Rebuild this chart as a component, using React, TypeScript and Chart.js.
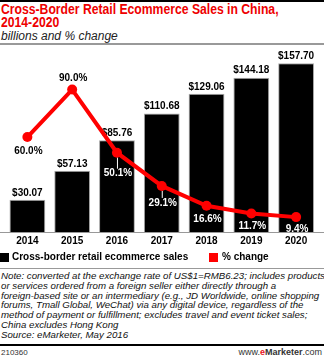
import React, { useEffect, useRef } from "react";
import { Chart, registerables } from "chart.js";

Chart.register(...registerables);

const years = ["2014", "2015", "2016", "2017", "2018", "2019", "2020"];
const sales = [30.07, 57.13, 85.76, 110.68, 129.06, 144.18, 157.7];
const pctChange = [60.0, 90.0, 50.1, 29.1, 16.6, 11.7, 9.4];
const seriesNames = ["Cross-border retail ecommerce sales", "% change"];

const RED = "#ff0000";
const FONT = "'Liberation Sans', Arial, sans-serif";

// label placement for % change: offset (px) from the point, positive = below
const pctLabelOffset = [14, -11, 21, 17, 14, 13, 12];
const pctLabelColor = ["#000", "#000", "#fff", "#fff", "#fff", "#fff", "#fff"];

const labelsPlugin = {
  id: "labelsPlugin",
  beforeDatasetsDraw(chart: any) {
    const { ctx, chartArea } = chart;
    ctx.save();
    ctx.strokeStyle = "#999";
    ctx.lineWidth = 1;
    ctx.beginPath();
    ctx.moveTo(0, chartArea.bottom + 0.5);
    ctx.lineTo(chart.width, chartArea.bottom + 0.5);
    ctx.stroke();
    ctx.restore();
  },
  afterDatasetDraw(chart: any, args: any) {
    if (args.index !== 0) return;
    const { ctx } = chart;
    const meta = chart.getDatasetMeta(0);
    ctx.save();
    ctx.font = `bold 10px ${FONT}`;
    ctx.fillStyle = "#000";
    ctx.textAlign = "center";
    ctx.textBaseline = "bottom";
    meta.data.forEach((bar: any, i: number) => {
      ctx.fillText("$" + sales[i].toFixed(2), bar.x, bar.y - 2);
    });
    ctx.restore();
  },
  afterDatasetsDraw(chart: any) {
    const { ctx } = chart;
    const meta = chart.getDatasetMeta(1);
    ctx.save();
    ctx.font = `bold 10px ${FONT}`;
    ctx.textAlign = "center";
    ctx.textBaseline = "middle";
    meta.data.forEach((pt: any, i: number) => {
      const off = pctLabelOffset[i];
      const ly = pt.y + off;
      if (off > 16) {
        ctx.strokeStyle = "#fff";
        ctx.lineWidth = 1;
        ctx.beginPath();
        ctx.moveTo(pt.x + 0.5, pt.y + 5);
        ctx.lineTo(pt.x + 0.5, ly - 5);
        ctx.stroke();
      }
      ctx.fillStyle = pctLabelColor[i];
      ctx.fillText(pctChange[i].toFixed(1) + "%", pt.x + 1, ly);
    });
    // legend
    const base = chart.chartArea.bottom;
    const ly = base + 25;
    ctx.textAlign = "left";
    ctx.fillStyle = "#000";
    ctx.fillRect(0, ly - 4, 9, 9);
    ctx.fillText(seriesNames[0], 12, ly + 0.5);
    ctx.fillStyle = RED;
    ctx.fillRect(209, ly - 4, 9, 9);
    ctx.fillStyle = "#000";
    ctx.fillText(seriesNames[1], 222, ly + 0.5);
    ctx.restore();
  },
};

function ChartView() {
  const ref = useRef<HTMLCanvasElement>(null);
  useEffect(() => {
    if (!ref.current) return;
    const chart = new Chart(ref.current, {
      data: {
        labels: years,
        datasets: [
          {
            type: "bar",
            label: seriesNames[0],
            data: sales,
            backgroundColor: "#000",
            borderColor: "#aaa",
            borderWidth: 1,
            yAxisID: "y",
            order: 1,
            barPercentage: 1,
            categoryPercentage: 0.8,
          },
          {
            type: "line",
            label: seriesNames[1],
            data: pctChange,
            borderColor: RED,
            backgroundColor: RED,
            borderWidth: 4,
            pointRadius: 5,
            pointBackgroundColor: RED,
            pointBorderColor: RED,
            pointBorderWidth: 0,
            tension: 0,
            yAxisID: "y2",
            order: 0,
          },
        ],
      } as any,
      options: {
        animation: false,
        responsive: false,
        maintainAspectRatio: false,
        layout: { padding: { left: 3.5, right: 5.5, top: 0, bottom: 15 } },
        plugins: { legend: { display: false }, tooltip: { enabled: false } },
        scales: {
          x: {
            grid: { display: false, drawTicks: false },
            border: { display: false },
            ticks: {
              color: "#000",
              font: { family: FONT, weight: "bold", size: 10 },
              padding: 3,
              maxRotation: 0,
            },
            afterFit: (s: any) => {
              s.height = 20;
            },
          },
          y: { display: false, min: 0, max: 170 },
          y2: { display: false, min: 0, max: 115, position: "right" },
        },
      } as any,
      plugins: [labelsPlugin],
    });
    return () => chart.destroy();
  }, []);
  return (
    <canvas
      ref={ref}
      width={324}
      height={222}
      style={{ position: "absolute", left: 0, top: 45, width: 324, height: 222 }}
    />
  );
}

export default function App() {
  return (
    <div
      style={{
        position: "absolute",
        left: 0,
        top: 0,
        width: 324,
        height: 357,
        background: "#fff",
        overflow: "hidden",
        fontFamily: FONT,
      }}
    >
      <div style={{ position: "absolute", left: 0, top: 0, width: 324, height: 2, background: "#000" }} />
      <div
        style={{
          position: "absolute",
          left: 1,
          top: 3,
          color: "#ee0000",
          fontWeight: "bold",
          fontSize: 14,
          lineHeight: "13px",
          whiteSpace: "nowrap",
          transform: "scaleX(0.87)",
          transformOrigin: "0 0",
        }}
      >
        Cross-Border Retail Ecommerce Sales in China,
        <br />
        2014-2020
      </div>
      <div
        style={{
          position: "absolute",
          left: 1,
          top: 29,
          fontStyle: "italic",
          fontSize: 12,
          lineHeight: "14px",
          color: "#222",
          whiteSpace: "nowrap",
        }}
      >
        billions and % change
      </div>
      <div style={{ position: "absolute", left: 0, top: 43, width: 324, height: 2, background: "#999" }} />
      <ChartView />
      <div style={{ position: "absolute", left: 0, top: 268, width: 324, height: 1, background: "#999" }} />
      <div
        style={{
          position: "absolute",
          left: 1,
          top: 271,
          fontStyle: "italic",
          fontSize: 9.7,
          lineHeight: "9.8px",
          color: "#111",
          whiteSpace: "nowrap",
        }}
      >
        Note: converted at the exchange rate of US$1=RMB6.23; includes products
        <br />
        or services ordered from a foreign seller either directly through a
        <br />
        foreign-based site or an intermediary (e.g., JD Worldwide, online shopping
        <br />
        forums, Tmall Global, WeChat) via any digital device, regardless of the
        <br />
        method of payment or fulfillment; excludes travel and event ticket sales;
        <br />
        China excludes Hong Kong
        <br />
        Source: eMarketer, May 2016
      </div>
      <div style={{ position: "absolute", left: 0, top: 344, width: 324, height: 2, background: "#000" }} />
      <div style={{ position: "absolute", left: 1, top: 348, fontSize: 8, lineHeight: "9px", color: "#333" }}>210360</div>
      <div
        style={{
          position: "absolute",
          right: 2,
          top: 347,
          fontSize: 9,
          lineHeight: "10px",
          color: "#333",
          whiteSpace: "nowrap",
        }}
      >
        www.<span style={{ color: "#e8111b", fontWeight: "bold" }}>e</span>
        <span style={{ fontWeight: "bold" }}>Marketer</span>.com
      </div>
    </div>
  );
}
